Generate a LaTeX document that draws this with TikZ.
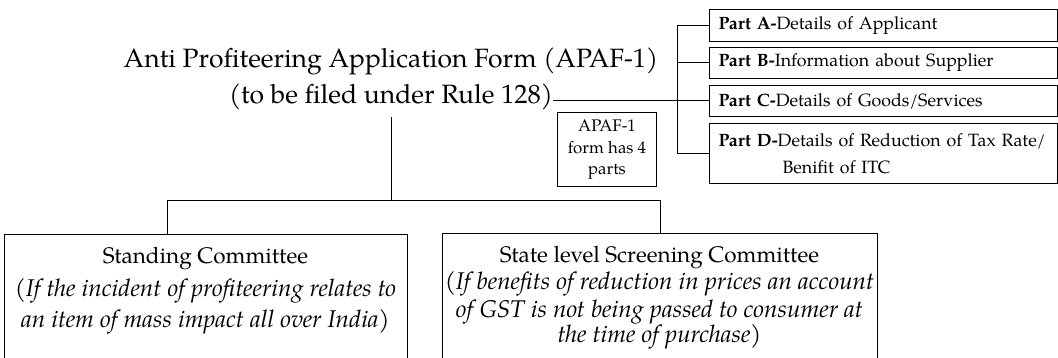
\documentclass[tikz,border=0pt]{standalone}
\usepackage{fontspec}
\setmainfont{TeX Gyre Pagella}
\begin{document}
\begin{tikzpicture}[x=1pt,y=-1pt,line width=1pt,
  part/.style={draw,anchor=north west,text width=330pt,inner xsep=9pt,inner ysep=0pt,align=left,font=\fontsize{17.8}{27}\selectfont},
  txt/.style={inner sep=0pt,anchor=base},
  title/.style={txt,font=\fontsize{26.5}{30}\selectfont},
  boxhead/.style={txt,font=\fontsize{22.5}{26}\selectfont},
  boxit/.style={txt,font=\fontsize{24.2}{28}\selectfont}]
\useasboundingbox (0,0) rectangle (1058,358);
% title
\node[title] (t1) at (391,68) {Anti Profiteering Application Form (APAF-1)};
\node[title] (t2) at (391,104) {(to be filed under Rule 128)};
% parts
\node[part,minimum height=32pt] (pA) at (709,9) {\textbf{Part A-}Details of Applicant};
\node[part,minimum height=31pt] (pB) at (709,47) {\textbf{Part B-}Information about Supplier};
\node[part,minimum height=31pt] (pC) at (709,85) {\textbf{Part C-}Details of Goods/Services};
\node[part,minimum height=60pt] (pD) at (709,123) {\textbf{Part D-}Details of Reduction of Tax Rate/\\\hspace*{64pt}Benifit of ITC};
\coordinate (j) at (677,0);
\draw (pA.west) -| (j |- pD.west) -- (pD.west);
\draw (pB.west) -- (j |- pB.west);
\draw (t2.east |- pC.west) -- (pC.west);
% APAF box
\node[draw,minimum width=99pt,minimum height=74pt,anchor=north west,align=center,inner sep=0pt,font=\fontsize{16.8}{21.5}\selectfont] (ap) at (557,112) {APAF-1\\form has 4\\parts};
% bottom
\node[draw,minimum width=403pt,minimum height=150pt,anchor=north west,inner sep=0pt] (lb) at (4,234) {};
\node[draw,minimum width=435pt,minimum height=150pt,anchor=north west,inner sep=0pt] (rb) at (442,233) {};
\coordinate (split) at (391,201);
\coordinate (ls) at (167,201);
\coordinate (rs) at (660,201);
\draw ([yshift=-13pt]t2.base) -- (split);
\draw (ls |- lb.north) -- (ls) -- (rs) -- (rs |- rb.north);
% left box text
\node[boxhead] (l1) at (205.5,264) {Standing Committee};
\node[boxit] (l2) at (205.5,297) {(\textit{If the incident of profiteering relates to}};
\node[boxit] (l3) at (205.5,327) {\textit{an item of mass impact all over India)}};
% right box text
\node[boxhead] (r1) at (659.5,262) {State level Screening Committee};
\node[boxit] (r2) at (659.5,290) {(\textit{If benefits of reduction in prices an account}};
\node[boxit] (r3) at (659.5,317) {\textit{of GST is not being passed to consumer at}};
\node[boxit] (r4) at (659.5,342) {\textit{the time of purchase)}};
\end{tikzpicture}
\end{document}
